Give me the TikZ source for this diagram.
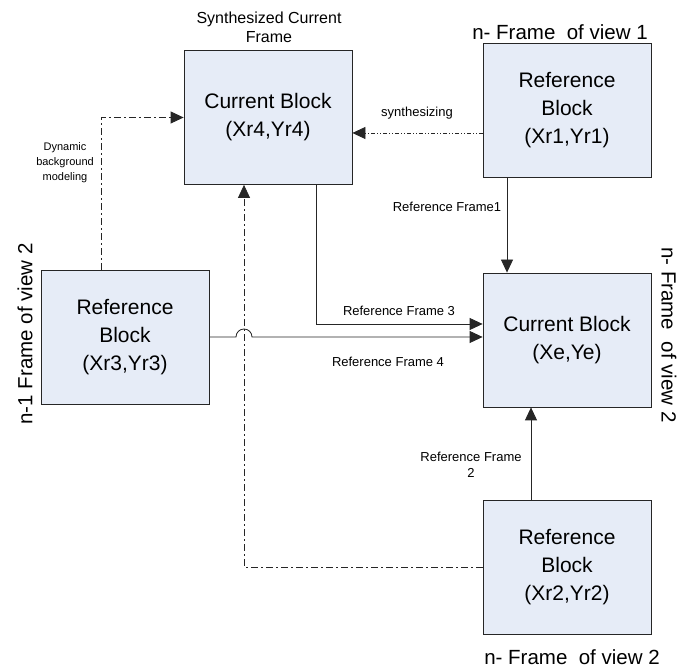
\documentclass[tikz,border=0pt]{standalone}
\usepackage{fontspec}
\setmainfont{Liberation Sans}
\usetikzlibrary{arrows.meta,calc}
\definecolor{blockfill}{HTML}{E6ECF7}
\tikzset{
    block/.style={draw=black!85,fill=blockfill,line width=0.8pt,minimum width=168pt,
        minimum height=134pt,inner sep=0pt,align=center,font=\fontsize{21}{28}\selectfont},
    conn/.style={draw=black!85,line width=0.8pt,-{Triangle[length=13pt,width=12pt]}},
    dashdot/.style={dash pattern=on 7pt off 3pt on 2pt off 3pt},
    dashdotdot/.style={dash pattern=on 4pt off 2pt on 1pt off 2pt on 1pt off 2pt},
    small/.style={align=center,font=\fontsize{13}{16}\selectfont},
    framelbl/.style={font=\fontsize{20.5}{24}\selectfont}
}
\begin{document}
\begin{tikzpicture}[x=1pt,y=1pt]
        \useasboundingbox (0,0) rectangle (677,668);
        %% blocks
        \node[block] (cur4) at (268,550.5) {Current Block\\(Xr4,Yr4)};
        \node[block] (ref1) at (567,558) {Reference\\Block\\(Xr1,Yr1)};
        \node[block] (ref3) at (125,331) {Reference\\Block\\(Xr3,Yr3)};
        \node[block] (cure) at (567,328) {Current Block\\(Xe,Ye)};
        \node[block] (ref2) at (567,101) {Reference\\Block\\(Xr2,Yr2)};
        %% helper coordinates for the bends
        \coordinate (f1) at (507,0);
        \coordinate (f2) at (531,0);
        \coordinate (f3) at (316,344);
        \coordinate (syn) at (0,535);
        \coordinate (dyn) at (101,0);
        \coordinate (jmp) at (244,331);
        %% solid connectors
        \draw[conn] (ref1.south -| f1) -- (cure.north -| f1);
        \draw[conn] (cur4.south -| f3) |- (cure.west |- f3);
        \draw[conn] (ref3.east) -- ($(jmp)+(-8,0)$) arc[start angle=180,end angle=0,radius=8]
            -- (cure.west |- ref3.east);
        \draw[conn] (ref2.north -| f2) -- (cure.south -| f2);
        %% dashed connectors
        \draw[conn,dashdotdot] (ref1.west |- syn) -- (cur4.east |- syn);
        \draw[conn,dashdot] (ref2.west) -| (cur4.south -| jmp);
        \draw[conn,dashdot] (ref3.north -| dyn) |- (cur4.west);
        %% connector labels
        \node[small] (lsyn) at (417,555) {synthesizing};
        \node[small] (lf1) at (447,461) {Reference Frame1};
        \node[small] (lf3) at (399,357) {Reference Frame 3};
        \node[small] (lf4) at (388,306) {Reference Frame 4};
        \node[small] (lf2) at (471,203) {Reference Frame\\2};
        \node[align=center,font=\fontsize{11}{15}\selectfont] (ldyn) at (65,505)
            {Dynamic\\background\\modeling};
        %% frame labels
        \node[align=center,font=\fontsize{16}{19}\selectfont] (lsc) at (269,641)
            {Synthesized Current\\Frame};
        \node[framelbl] (lv1) at (560,636) {n- Frame~ of view 1};
        \node[framelbl] (lv2) at (572,11) {n- Frame~ of view 2};
        \node[framelbl,rotate=90] (lv3) at (25,334) {n-1 Frame of view 2};
        \node[framelbl,rotate=-90] (lv4) at (669,333) {n- Frame~ of view 2};
    \end{tikzpicture}
\end{document}
